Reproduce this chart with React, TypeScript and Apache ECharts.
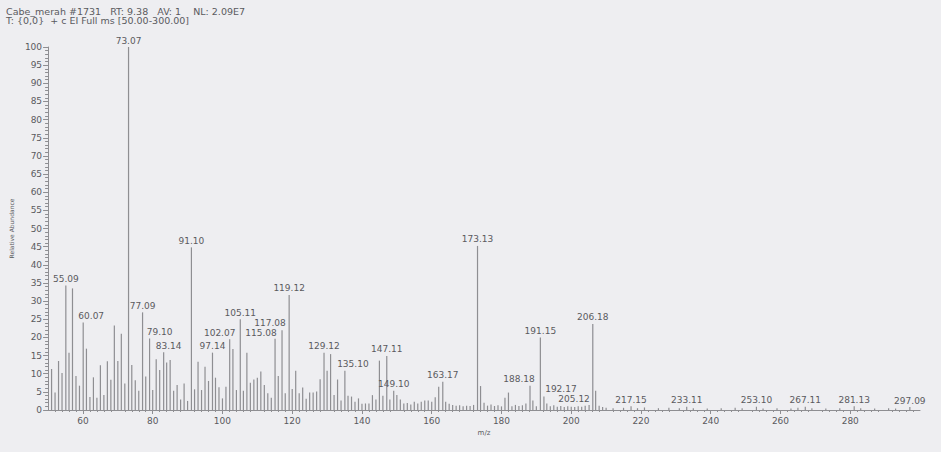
import React, { useEffect, useRef } from "react";
import * as echarts from "echarts";

// m/z values (labelled peaks carry their exact centroid value)
const mzValues: number[] = [
  51, 52, 53, 54, 55.09, 56, 57, 58, 59, 60.07, 61, 62, 63, 64, 65, 66, 67, 68, 69, 70,
  71, 72, 73.07, 74, 75, 76, 77.09, 78, 79.1, 80, 81, 82, 83.14, 84, 85, 86, 87, 88, 89, 90,
  91.1, 92, 93, 94, 95, 96, 97.14, 98, 99, 100, 101, 102.07, 103, 104, 105.11, 106, 107, 108, 109, 110,
  111, 112, 113, 114, 115.08, 116, 117.08, 118, 119.12, 120, 121, 122, 123, 124, 125, 126, 127, 128, 129.12, 130,
  131, 132, 133, 134, 135.1, 136, 137, 138, 139, 140, 141, 142, 143, 144, 145, 146, 147.11, 148, 149.1, 150,
  151, 152, 153, 154, 155, 156, 157, 158, 159, 160, 161, 162, 163.17, 164, 165, 166, 167, 168, 169, 170,
  171, 172, 173.13, 174, 175, 176, 177, 178, 179, 180, 181, 182, 183, 184, 185, 186, 187, 188.18, 189, 190,
  191.15, 192.17, 193, 194, 195, 196, 197, 198, 199, 200, 201, 202, 203, 204, 205.12, 206.18, 207, 208, 209, 210,
  212, 215, 217.15, 219, 221, 225, 228, 231, 233.11, 235, 239, 243, 247, 249, 253.1, 255, 259, 263, 265, 267.11,
  269, 273, 277, 281.13, 283, 287, 291, 293, 297.09,
];

// relative abundance (%), one per m/z above
const abundance: number[] = [
  11.3, 4.8, 13.5, 10.2, 34.3, 15.8, 33.5, 9.4, 6.7, 24.1, 16.9, 3.6, 9.0, 3.4, 12.3, 4.1, 13.4, 8.3, 23.3, 13.5,
  21.0, 7.3, 100, 12.4, 8.2, 5.3, 26.9, 9.2, 19.7, 5.5, 14.0, 11.0, 15.9, 13.1, 13.8, 5.3, 6.9, 2.9, 7.3, 2.5,
  44.8, 5.7, 13.3, 5.5, 11.9, 8.0, 15.8, 8.9, 6.3, 3.2, 6.4, 19.5, 16.8, 5.5, 25.0, 5.3, 15.8, 7.5, 8.4, 8.9,
  10.6, 6.9, 4.6, 3.4, 19.6, 9.4, 22.0, 4.6, 31.7, 5.8, 10.8, 4.6, 6.2, 3.1, 4.8, 4.8, 5.1, 8.5, 15.8, 10.8,
  15.4, 4.1, 8.4, 2.6, 10.8, 3.9, 3.7, 2.3, 3.2, 1.7, 1.8, 1.8, 4.1, 2.9, 13.6, 3.9, 14.9, 2.9, 5.3, 4.1,
  2.9, 1.8, 1.9, 1.5, 2.3, 1.8, 2.3, 2.6, 2.6, 2.3, 3.5, 6.4, 7.8, 2.3, 1.7, 1.4, 1.2, 1.3, 1.0, 1.2,
  1.1, 1.4, 45.2, 6.6, 2.0, 1.2, 1.5, 1.1, 1.3, 1.0, 3.4, 4.8, 1.0, 1.4, 1.1, 1.3, 1.8, 6.7, 2.6, 1.0,
  20.0, 3.7, 1.8, 1.0, 1.3, 0.9, 1.1, 0.8, 1.0, 0.9, 0.8, 1.0, 0.9, 1.2, 1.4, 23.7, 5.3, 1.2, 0.8, 0.6,
  0.5, 0.6, 1.0, 0.5, 0.7, 0.5, 0.6, 0.5, 0.9, 0.5, 0.4, 0.5, 0.6, 0.5, 0.9, 0.4, 0.5, 0.4, 0.6, 0.9,
  0.5, 0.4, 0.5, 1.0, 0.5, 0.4, 0.5, 0.4, 0.8,
];

// peaks annotated with their m/z
const labelledPeaks: number[] = [
  55.09, 60.07, 73.07, 77.09, 79.1, 83.14, 91.1, 97.14, 102.07, 105.11, 115.08, 117.08, 119.12,
  129.12, 135.1, 147.11, 149.1, 163.17, 173.13, 188.18, 191.15, 192.17, 205.12, 206.18,
  217.15, 233.11, 253.1, 267.11, 281.13, 297.09,
];

const xTickValues: number[] = [60, 80, 100, 120, 140, 160, 180, 200, 220, 240, 260, 280];

const headerLines: string[] = [
  "Cabe_merah #1731   RT: 9.38   AV: 1    NL: 2.09E7",
  "T: {0,0}  + c EI Full ms [50.00-300.00]",
];

// label nudges [dx, dy] in px so annotations don't collide
const labelNudge: Record<string, [number, number]> = {
  "60.07": [8, 0], "79.10": [10, 0], "83.14": [5, 0], "102.07": [-10, 0],
  "115.08": [-14, 1], "117.08": [-12, -1], "135.10": [8, 0], "188.18": [-11, 0],
  "192.17": [17, -1], "205.12": [-15, 1],
};

const FONT = "DejaVu Sans";
const TEXT = "#5a5a5e";
const LINE = "#8e8e92";

export default function App() {
  const ref = useRef<HTMLDivElement>(null);
  useEffect(() => {
    if (!ref.current) return;
    const chart = echarts.init(ref.current, undefined, { renderer: "svg" });
    const data = mzValues.map((m, i) => {
      const isLab = labelledPeaks.includes(m);
      const txt = m.toFixed(2);
      const item: any = { value: [m, abundance[i]] };
      if (isLab) {
        item.label = {
          show: true,
          position: "top",
          distance: 2,
          formatter: txt,
          offset: labelNudge[txt] || [0, 0],
        };
      }
      return item;
    });
    chart.setOption({
      animation: false,
      backgroundColor: "#eeeef1",
      grid: { left: 48, right: 21, top: 47, bottom: 42, containLabel: false },
      xAxis: {
        type: "value",
        min: 50,
        max: 300,
        interval: 10,
        name: "m/z",
        nameLocation: "middle",
        nameGap: 15,
        nameTextStyle: { fontFamily: FONT, fontSize: 7, color: TEXT },
        axisLine: { show: true, lineStyle: { color: LINE, width: 1 } },
        axisTick: { show: true, length: 4, lineStyle: { color: LINE }, customValues: xTickValues },
        minorTick: { show: true, splitNumber: 5, length: 2, lineStyle: { color: LINE } },
        axisLabel: {
          fontFamily: FONT,
          fontSize: 9,
          color: TEXT,
          margin: 6,
          customValues: xTickValues,
        },
        splitLine: { show: false },
      },
      yAxis: {
        type: "value",
        min: 0,
        max: 100,
        interval: 5,
        name: "Relative Abundance",
        nameLocation: "middle",
        nameRotate: 90,
        nameGap: 18,
        nameTextStyle: { fontFamily: FONT, fontSize: 6, color: TEXT },
        axisLine: { show: true, lineStyle: { color: LINE, width: 1 } },
        axisTick: { show: true, length: 5, lineStyle: { color: LINE } },
        minorTick: { show: true, splitNumber: 5, length: 3, lineStyle: { color: LINE } },
        axisLabel: { fontFamily: FONT, fontSize: 9, color: TEXT, margin: 6 },
        splitLine: { show: false },
      },
      graphic: [
        {
          type: "text",
          left: 6,
          top: 6,
          style: {
            text: headerLines.join("\n"),
            fontFamily: FONT,
            fontSize: 9.5,
            lineHeight: 9.5,
            fill: TEXT,
          },
        },
      ],
      series: [
        {
          type: "bar",
          barWidth: 1.2,
          itemStyle: { color: "#8e8e92" },
          label: { fontFamily: FONT, fontSize: 9, color: TEXT, lineHeight: 9 },
          data,
        },
      ],
    });
    return () => chart.dispose();
  }, []);
  return (
    <div
      ref={ref}
      style={{ position: "absolute", left: 0, top: 0, width: 941, height: 452, background: "#eeeef1" }}
    />
  );
}
